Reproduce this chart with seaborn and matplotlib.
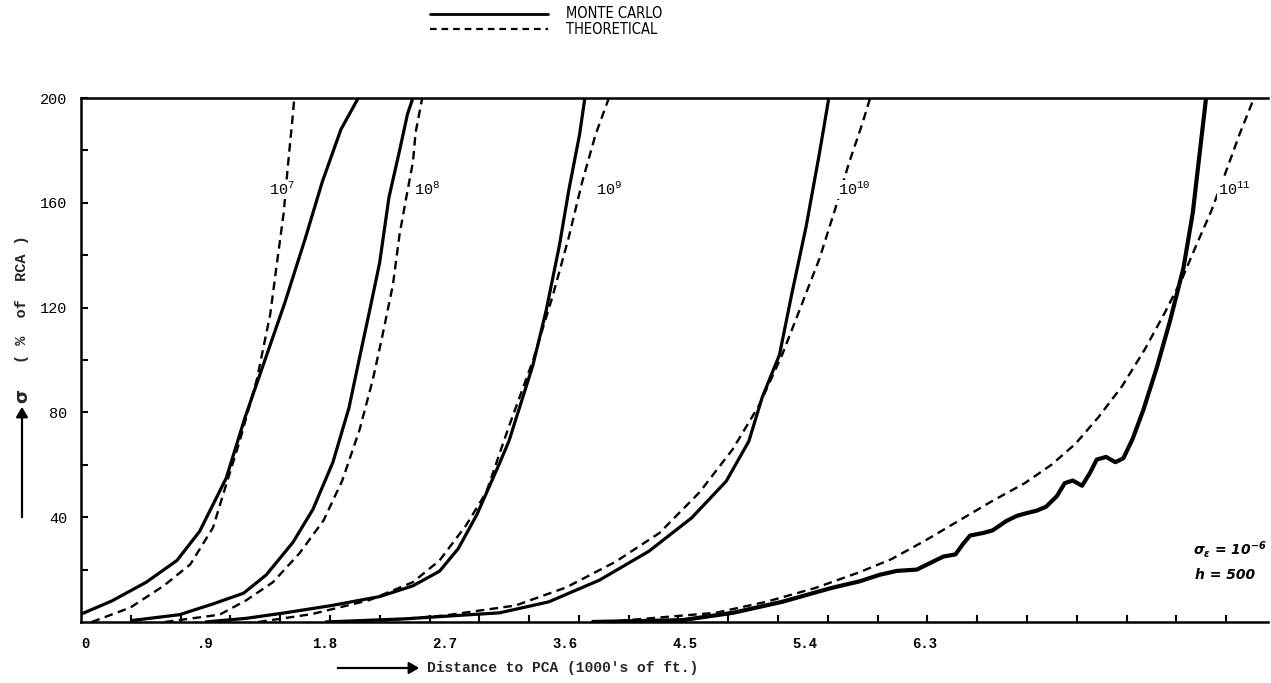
import numpy as np
import pandas as pd
import matplotlib
matplotlib.use("Agg")
import matplotlib.pyplot as plt
import seaborn as sns
from matplotlib.lines import Line2D
from matplotlib.patches import FancyArrowPatch

sns.set_theme(style="white")
plt.rcParams["font.family"] = ["DejaVu Sans"]
plt.rcParams["mathtext.fontset"] = "custom"
plt.rcParams["mathtext.rm"] = "DejaVu Sans:italic:bold"
plt.rcParams["mathtext.it"] = "DejaVu Sans:italic:bold"
plt.rcParams["mathtext.bf"] = "DejaVu Sans:bold"
plt.rcParams["mathtext.tt"] = "Liberation Mono"

# ---------------- data (distance in 1000's of ft, sigma in % of RCA) ----------------
curve_names = ["1e7", "1e8", "1e9", "1e10", "1e11"]
curve_exps = ["7", "8", "9", "10", "11"]

mc7_x = [-0.03, 0.20, 0.46, 0.69, 0.86, 1.06, 1.20, 1.35, 1.50, 1.65, 1.78, 1.92, 2.05]
mc7_y = [3.0, 8.0, 15.2, 23.5, 34.6, 55.0, 78.0, 100.0, 122.0, 146.0, 168.0, 188.0, 200.0]
th7_x = [0.05, 0.34, 0.59, 0.79, 0.96, 1.06, 1.16, 1.29, 1.39, 1.44, 1.49, 1.52, 1.56, 1.57]
th7_y = [0.0, 5.5, 13.8, 22.0, 36.0, 52.6, 69.0, 92.7, 117.6, 137.0, 156.0, 173.0, 194.0, 200.0]

mc8_x = [0.34, 0.71, 0.96, 1.19, 1.36, 1.56, 1.71, 1.86, 1.98, 2.06, 2.13, 2.21, 2.28, 2.36, 2.42, 2.46]
mc8_y = [0.5, 2.8, 6.9, 11.0, 18.0, 30.4, 43.0, 61.0, 81.7, 101.0, 117.6, 137.0, 162.0, 180.0, 194.0, 200.0]
th8_x = [0.60, 1.01, 1.21, 1.41, 1.61, 1.79, 1.93, 2.06, 2.16, 2.23, 2.31, 2.36, 2.41, 2.46, 2.48, 2.53]
th8_y = [0.0, 2.8, 8.3, 15.2, 26.3, 38.8, 54.0, 73.4, 92.7, 109.0, 128.7, 148.0, 162.0, 175.5, 186.8, 200.0]

mc9_x = [0.90, 1.21, 1.50, 1.84, 2.21, 2.46, 2.66, 2.80, 2.94, 3.11, 3.18, 3.36, 3.46, 3.56, 3.63, 3.71, 3.75]
mc9_y = [0.0, 1.4, 3.5, 6.2, 9.7, 13.8, 19.4, 28.0, 41.0, 60.6, 69.0, 98.0, 119.0, 144.0, 165.0, 186.0, 200.0]
th9_x = [1.30, 1.70, 2.13, 2.46, 2.66, 2.86, 3.01, 3.18, 3.36, 3.51, 3.63, 3.73, 3.83, 3.93]
th9_y = [0.0, 3.0, 8.3, 15.2, 23.5, 37.0, 49.5, 74.6, 99.7, 124.7, 147.0, 168.0, 186.0, 200.0]

mc10_x = [1.80, 2.40, 2.80, 3.11, 3.48, 3.86, 4.23, 4.55, 4.81, 4.98, 5.08, 5.21, 5.30, 5.41, 5.51, 5.58]
mc10_y = [0.0, 1.2, 2.5, 3.5, 7.7, 16.0, 27.0, 39.7, 53.7, 69.0, 85.7, 102.0, 124.7, 151.0, 179.0, 200.0]
th10_x = [2.10, 2.70, 3.23, 3.61, 3.98, 4.31, 4.61, 4.86, 5.06, 5.23, 5.36, 5.51, 5.63, 5.73, 5.83, 5.89]
th10_y = [0.0, 2.5, 6.3, 13.2, 23.0, 34.0, 49.5, 66.0, 83.0, 102.0, 119.0, 138.7, 158.0, 175.0, 190.0, 200.0]

mc11_x = [3.80, 4.48, 4.86, 5.23, 5.60, 5.81, 5.96, 6.09, 6.24, 6.34, 6.44, 6.53, 6.59, 6.64, 6.74,
          6.81, 6.91, 6.99, 7.06, 7.14, 7.21, 7.29, 7.35, 7.41, 7.48, 7.54, 7.59, 7.66, 7.73, 7.79,
          7.86, 7.94, 8.04, 8.14, 8.24, 8.31, 8.36, 8.41]
mc11_y = [0.0, 0.7, 3.5, 7.7, 13.0, 15.5, 18.0, 19.5, 20.0, 22.5, 25.0, 25.8, 30.0, 33.0, 34.0,
          35.0, 38.5, 40.5, 41.5, 42.5, 44.0, 48.0, 53.0, 54.0, 52.0, 57.0, 62.0, 63.0, 61.0, 62.5,
          70.0, 81.0, 97.0, 115.0, 135.0, 156.0, 178.0, 200.0]
th11_x = [3.90, 4.73, 5.11, 5.48, 5.81, 6.05, 6.30, 6.55, 6.80, 7.05, 7.25, 7.43, 7.60, 7.78, 7.95,
          8.10, 8.23, 8.33, 8.45, 8.56, 8.66, 8.77]
th11_y = [0.0, 3.5, 7.7, 13.0, 19.0, 24.0, 31.0, 38.5, 46.0, 53.0, 60.0, 68.0, 78.0, 90.0, 104.0,
          118.0, 131.0, 143.0, 157.0, 172.0, 186.0, 200.0]

x_tick_values = [0, 0.9, 1.8, 2.7, 3.6, 4.5, 5.4, 6.3]
x_tick_labels = ["0", ".9", "1.8", "2.7", "3.6", "4.5", "5.4", "6.3"]
y_tick_values = [40, 80, 120, 160, 200]
y_tick_labels = ["40", "80", "120", "160", "200"]

# curve label anchors (left edge, sigma level)
label_x = [1.38, 2.47, 3.83, 5.65, 8.50]
label_y = [165, 165, 165, 165, 165]

legend_labels = ["MONTE CARLO", "THEORETICAL"]

# ---------------- tidy table ----------------
mc_xs = [mc7_x, mc8_x, mc9_x, mc10_x, mc11_x]
mc_ys = [mc7_y, mc8_y, mc9_y, mc10_y, mc11_y]
th_xs = [th7_x, th8_x, th9_x, th10_x, th11_x]
th_ys = [th7_y, th8_y, th9_y, th10_y, th11_y]
frames = []
for name, mx, my, tx, ty in zip(curve_names, mc_xs, mc_ys, th_xs, th_ys):
    frames.append(pd.DataFrame({"curve": name, "method": legend_labels[0], "x": mx, "y": my}))
    frames.append(pd.DataFrame({"curve": name, "method": legend_labels[1], "x": tx, "y": ty}))
df = pd.concat(frames, ignore_index=True)

# ---------------- figure ----------------
W, H = 1271, 683
fig = plt.figure(figsize=(W / 100, H / 100), dpi=100)
ax = fig.add_axes([81 / W, 1 - 622 / H, (1268 - 81) / W, (622 - 98) / H])
ax.set_facecolor("white")

dash_pat = (0, (3.6, 2.3))
for (name, method), sub in df.groupby(["curve", "method"], sort=False):
    if method == legend_labels[0]:
        lw = 3.0 if name == "1e11" else 2.3
        ls = "-"
    else:
        lw = 1.7
        ls = dash_pat
    sns.lineplot(data=sub, x="x", y="y", ax=ax, color="black", linewidth=lw,
                 linestyle=ls, sort=False, estimator=None, legend=False,
                 solid_capstyle="butt", dash_capstyle="butt", solid_joinstyle="round")

xmin = (81 - 85) / 133.3
xmax = (1268 - 85) / 133.3
ax.set_xlim(xmin, xmax)
ax.set_ylim(0, 200)
ax.set_xlabel("")
ax.set_ylabel("")

for side in ["left", "top", "bottom"]:
    ax.spines[side].set_visible(True)
    ax.spines[side].set_color("black")
    ax.spines[side].set_linewidth(1.8)
ax.spines["right"].set_visible(False)

# x: labels at major positions, tick marks at the minor positions
ax.set_xticks(x_tick_values)
ax.set_xticklabels(x_tick_labels, fontfamily="Liberation Mono", fontweight="bold", fontsize=10)
ax.set_xticks(list(xmin + 0.3735 * np.arange(1, 24)), minor=True)
ax.tick_params(axis="x", which="major", length=0, pad=11, colors="black")
ax.tick_params(axis="x", which="minor", direction="in", length=5, width=1.5, bottom=True,
               colors="black")

ax.set_yticks(y_tick_values)
ax.set_yticklabels(y_tick_labels, fontfamily="Liberation Mono", fontsize=11)
ax.set_yticks([20, 60, 100, 140, 180], minor=True)
ax.tick_params(axis="y", which="both", direction="in", length=5, width=1.5, left=True,
               pad=10, colors="black")
ax.grid(False)

# curve labels
for lx, ly, e in zip(label_x, label_y, curve_exps):
    ax.text(lx, ly, r"$\mathtt{10}^{\mathtt{" + e + "}}$", fontsize=11, ha="left", va="center",
            color="black", zorder=5,
            bbox=dict(facecolor="white", edgecolor="none", pad=0.5))

# parameter annotation
ax.text(8.31, 27.5, r"$\sigma_{\varepsilon}$ = 10$^{-6}$", fontsize=10,
        fontweight="bold", fontstyle="italic", ha="left", va="center", color="black")
ax.text(8.33, 18, "h = 500", fontsize=10, fontweight="bold", fontstyle="italic",
        ha="left", va="center", color="black")

# legend (drawn in figure coordinates)
legend_styles = [dict(lw=2.0, linestyle="-"), dict(lw=1.6, linestyle=(0, (3.0, 2.2)))]
for i, (lab, sty) in enumerate(zip(legend_labels, legend_styles)):
    yy = 1 - (14 + 15 * i) / H
    fig.add_artist(Line2D([430 / W, 548 / W], [yy, yy], color="black",
                          transform=fig.transFigure, **sty))
    fig.text(566 / W, yy, lab, ha="left", va="center", fontsize=10.5,
             fontfamily="DejaVu Sans", fontstretch="condensed", color="black")

# y-axis label with arrow
fig.text(22 / W, 1 - 396 / H, "σ", rotation=90, ha="center", va="center",
         fontsize=13, fontweight="bold", fontfamily="DejaVu Sans")
fig.text(22 / W, 1 - 299 / H, "( %  of  RCA )", rotation=90, ha="center", va="center",
         fontsize=11, fontweight="bold", fontfamily="Liberation Mono")
fig.add_artist(FancyArrowPatch((22 / W, 1 - 520 / H), (22 / W, 1 - 404 / H),
               transform=fig.transFigure, arrowstyle="-|>,head_length=6,head_width=3.5",
               lw=1.6, color="black"))

# x-axis label with arrow
fig.add_artist(FancyArrowPatch((335 / W, 1 - 668 / H), (422 / W, 1 - 668 / H),
               transform=fig.transFigure, arrowstyle="-|>,head_length=6,head_width=3.5",
               lw=1.6, color="black"))
fig.text(427 / W, 1 - 668 / H, "Distance to PCA (1000's of ft.)", ha="left", va="center",
         fontsize=10.5, fontweight="bold", fontfamily="Liberation Mono")

fig.savefig("out.png", dpi=100, facecolor="white")
